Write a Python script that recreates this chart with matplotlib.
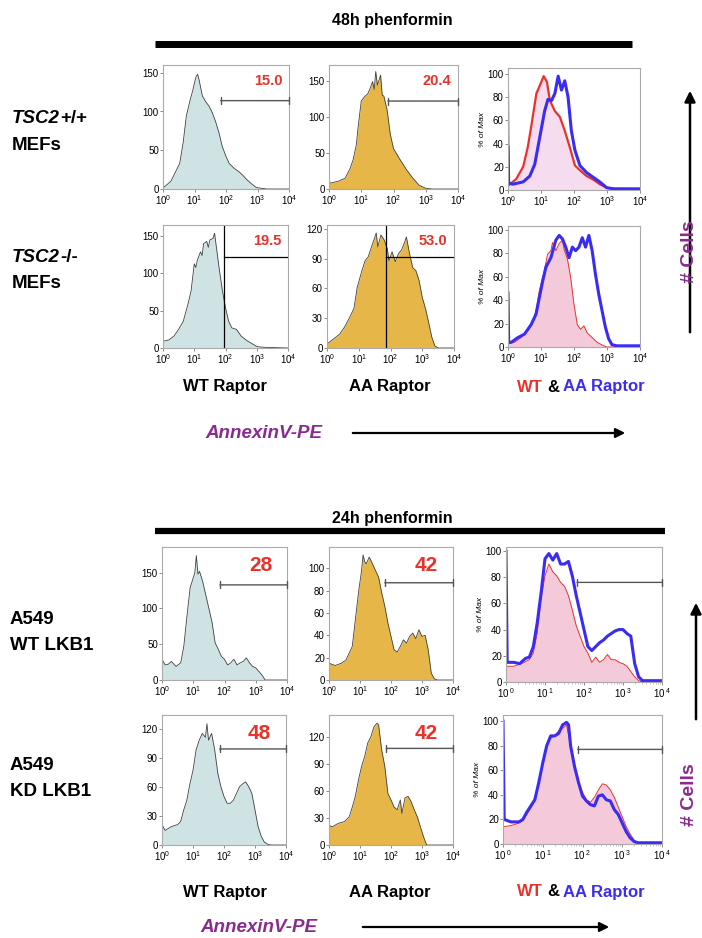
import matplotlib
matplotlib.use('Agg')
import matplotlib.pyplot as plt
import numpy as np

plt.rcParams['font.family'] = ['Liberation Sans', 'DejaVu Sans']
plt.rcParams['mathtext.fontset'] = 'custom'
plt.rcParams['mathtext.rm'] = 'Liberation Sans'
plt.rcParams['mathtext.it'] = 'Liberation Sans:italic'

W, H = 702, 938

# ---- data: x = log10(AnnexinV-PE), y = cell count / % of max ----
# 48h phenformin, TSC2+/+
t1_wt_x = [0, 0.02, 0.25, 0.53, 0.64, 0.74, 0.85, 0.95, 1.0, 1.05, 1.1, 1.15, 1.25, 1.35, 1.46, 1.57, 1.67, 1.78, 1.88, 2.0, 2.1, 2.25, 2.42, 2.55, 2.64, 2.8, 2.96, 3.1, 3.3, 4.0]
t1_wt_y = [45, 2, 10, 33, 60, 94, 113, 128, 137, 145, 148, 140, 120, 113, 107, 98, 87, 72, 55, 42, 33, 27, 22, 17, 13, 7, 2, 1, 0, 0]
t1_aa_x = [0, 0.02, 0.3, 0.5, 0.65, 0.75, 0.85, 0.9, 1.0, 1.1, 1.2, 1.28, 1.35, 1.4, 1.45, 1.5, 1.55, 1.6, 1.65, 1.7, 1.8, 1.9, 2.0, 2.2, 2.4, 2.6, 2.8, 3.0, 3.2, 4.0]
t1_aa_y = [55, 8, 11, 15, 28, 41, 62, 85, 122, 128, 132, 140, 149, 138, 163, 144, 151, 158, 130, 129, 110, 76, 56, 41, 27, 15, 5, 1, 0, 0]
t1_red_x = [0, 0.02, 0.25, 0.46, 0.6, 0.7, 0.86, 1.01, 1.08, 1.18, 1.27, 1.42, 1.57, 1.72, 1.87, 2.03, 2.18, 2.38, 2.58, 2.78, 2.99, 3.2, 4.0]
t1_red_y = [83, 4, 9.5, 20, 37, 54, 83, 93, 98, 93, 77, 68, 63, 51, 37, 21, 17, 12, 9, 5, 2, 1, 0.5]
t1_blue_x = [0, 0.02, 0.15, 0.46, 0.66, 0.81, 0.96, 1.11, 1.21, 1.32, 1.42, 1.52, 1.62, 1.72, 1.82, 1.92, 2.03, 2.18, 2.38, 2.58, 2.78, 2.99, 3.2, 4.0]
t1_blue_y = [37, 6, 5, 7, 12, 22, 45, 68, 78, 77, 83, 98, 86, 94, 80, 51, 34, 21, 15, 11, 7, 2, 1, 1]

# 48h phenformin, TSC2-/-
t2_wt_x = [0, 0.2, 0.35, 0.5, 0.65, 0.8, 0.9, 1.0, 1.05, 1.1, 1.2, 1.25, 1.3, 1.4, 1.45, 1.5, 1.6, 1.65, 1.7, 1.8, 1.9, 2.0, 2.1, 2.2, 2.35, 2.5, 2.65, 2.8, 3.0, 3.2, 4.0]
t2_wt_y = [9, 11, 16, 25, 36, 59, 77, 113, 108, 118, 129, 124, 140, 143, 135, 145, 147, 154, 138, 106, 77, 54, 36, 27, 25, 16, 11, 7, 2, 1, 0]
t2_aa_x = [0, 0.2, 0.4, 0.55, 0.7, 0.85, 0.95, 1.1, 1.2, 1.3, 1.4, 1.5, 1.55, 1.6, 1.7, 1.8, 1.9, 1.95, 2.05, 2.15, 2.25, 2.35, 2.45, 2.5, 2.6, 2.7, 2.8, 2.9, 3.0, 3.1, 3.2, 3.3, 3.4, 3.5, 4.0]
t2_aa_y = [4, 9, 14, 21, 30, 40, 61, 78, 88, 92, 102, 111, 116, 102, 114, 109, 100, 88, 97, 87, 95, 99, 107, 112, 95, 81, 78, 68, 51, 40, 26, 11, 2, 0, 0]
t2_red_x = [0, 0.02, 0.2, 0.4, 0.6, 0.75, 0.85, 0.95, 1.1, 1.2, 1.3, 1.35, 1.45, 1.55, 1.65, 1.7, 1.8, 1.9, 2.0, 2.1, 2.2, 2.3, 2.4, 2.55, 2.7, 2.9, 3.0, 4.0]
t2_red_y = [61, 3, 4, 8, 14, 21, 31, 48, 65, 79, 82, 89, 82, 88, 91, 83, 75, 59, 36, 19, 15, 18, 12, 8, 4, 1, 0, 0]
t2_blue_x = [0, 0.02, 0.1, 0.3, 0.5, 0.7, 0.85, 0.95, 1.05, 1.15, 1.3, 1.45, 1.55, 1.65, 1.75, 1.85, 1.95, 2.05, 2.15, 2.25, 2.35, 2.45, 2.55, 2.65, 2.75, 2.85, 2.95, 3.05, 3.15, 3.3, 4.0]
t2_blue_y = [46, 4, 4, 8, 11, 19, 28, 42, 56, 68, 76, 91, 95, 92, 85, 76, 85, 82, 85, 93, 85, 95, 82, 62, 45, 31, 17, 7, 2, 1, 1]

# 24h phenformin, A549 WT LKB1
b1_wt_x = [0, 0.1, 0.2, 0.3, 0.45, 0.6, 0.7, 0.8, 0.9, 1.0, 1.05, 1.1, 1.15, 1.2, 1.3, 1.4, 1.5, 1.6, 1.7, 1.8, 1.9, 2.0, 2.1, 2.2, 2.3, 2.4, 2.5, 2.6, 2.7, 2.8, 2.9, 3.0, 3.1, 3.2, 3.3, 4.0]
b1_wt_y = [29, 21, 22, 26, 19, 24, 48, 90, 129, 143, 150, 174, 148, 152, 138, 119, 100, 81, 52, 43, 33, 29, 21, 24, 29, 21, 24, 26, 31, 24, 19, 17, 12, 7, 0, 0]
b1_aa_x = [0, 0.2, 0.4, 0.55, 0.65, 0.75, 0.85, 0.95, 1.05, 1.1, 1.15, 1.2, 1.3, 1.4, 1.5, 1.6, 1.7, 1.8, 1.9, 2.0, 2.1, 2.2, 2.3, 2.4, 2.5, 2.6, 2.7, 2.8, 2.9, 3.0, 3.1, 3.2, 3.3, 3.4, 3.5, 4.0]
b1_aa_y = [15, 13, 15, 18, 24, 30, 54, 78, 98, 112, 106, 104, 110, 104, 98, 92, 78, 66, 51, 39, 27, 25, 30, 36, 33, 39, 42, 37, 45, 39, 40, 27, 6, 1, 0, 0]
b1_red_x = [0, 0.2, 0.4, 0.6, 0.7, 0.8, 0.9, 1.0, 1.1, 1.2, 1.3, 1.4, 1.5, 1.6, 1.7, 1.8, 1.9, 2.0, 2.1, 2.2, 2.3, 2.4, 2.5, 2.6, 2.7, 2.8, 2.9, 3.0, 3.1, 3.2, 3.3, 3.4, 3.5, 4.0]
b1_red_y = [12, 12, 14, 17, 22, 37, 63, 81, 90, 84, 81, 76, 73, 66, 55, 43, 35, 27, 22, 15, 19, 15, 17, 21, 17, 17, 15, 14, 12, 8, 4, 1, 0, 0]
b1_blue_x = [0, 0.03, 0.2, 0.35, 0.5, 0.6, 0.7, 0.8, 0.9, 1.0, 1.1, 1.2, 1.3, 1.4, 1.5, 1.6, 1.7, 1.8, 1.9, 2.0, 2.1, 2.2, 2.3, 2.4, 2.5, 2.6, 2.7, 2.8, 2.9, 3.0, 3.1, 3.2, 3.3, 3.4, 3.5, 4.0]
b1_blue_y = [100, 15, 15, 14, 18, 19, 27, 45, 68, 94, 98, 93, 98, 90, 90, 92, 81, 66, 53, 40, 27, 24, 27, 30, 32, 35, 37, 39, 40, 40, 37, 35, 14, 4, 1, 1]

# 24h phenformin, A549 KD LKB1
b2_wt_x = [0, 0.1, 0.3, 0.5, 0.6, 0.7, 0.8, 0.9, 1.0, 1.1, 1.2, 1.3, 1.4, 1.45, 1.5, 1.6, 1.7, 1.8, 1.9, 2.0, 2.1, 2.2, 2.3, 2.4, 2.5, 2.6, 2.7, 2.8, 2.9, 3.0, 3.1, 3.2, 3.3, 3.4, 3.5, 4.0]
b2_wt_y = [21, 15, 19, 21, 24, 36, 46, 63, 77, 98, 108, 115, 111, 125, 108, 115, 98, 74, 60, 50, 43, 43, 46, 53, 60, 63, 65, 60, 53, 36, 19, 9, 3, 1, 0, 0]
b2_aa_x = [0, 0.1, 0.3, 0.5, 0.65, 0.75, 0.85, 0.95, 1.05, 1.15, 1.25, 1.35, 1.45, 1.55, 1.6, 1.7, 1.8, 1.9, 2.0, 2.1, 2.2, 2.3, 2.35, 2.45, 2.55, 2.65, 2.75, 2.85, 2.95, 3.05, 3.15, 4.0]
b2_aa_y = [22, 20, 24, 26, 31, 42, 54, 72, 87, 98, 113, 120, 131, 135, 133, 105, 87, 57, 50, 42, 39, 50, 35, 52, 54, 48, 39, 31, 20, 9, 0, 0]
b2_red_x = [0, 0.2, 0.4, 0.5, 0.6, 0.7, 0.8, 0.9, 1.0, 1.1, 1.2, 1.3, 1.4, 1.5, 1.6, 1.7, 1.8, 1.9, 2.0, 2.1, 2.2, 2.3, 2.4, 2.5, 2.6, 2.7, 2.8, 2.9, 3.0, 3.1, 3.2, 3.3, 3.4, 3.5, 4.0]
b2_red_y = [14, 15, 17, 19, 24, 29, 35, 50, 64, 80, 86, 88, 92, 94, 97, 80, 63, 50, 42, 36, 34, 38, 44, 49, 48, 44, 38, 30, 22, 14, 8, 3, 1, 0, 0]
b2_blue_x = [0, 0.03, 0.2, 0.4, 0.5, 0.6, 0.7, 0.8, 0.9, 1.0, 1.1, 1.2, 1.3, 1.4, 1.5, 1.6, 1.65, 1.7, 1.8, 1.9, 2.0, 2.1, 2.2, 2.3, 2.4, 2.5, 2.6, 2.7, 2.8, 2.9, 3.0, 3.1, 3.2, 3.3, 3.4, 4.0]
b2_blue_y = [100, 20, 18, 18, 20, 26, 31, 36, 50, 66, 80, 88, 88, 90, 97, 99, 97, 80, 63, 50, 39, 35, 32, 31, 39, 40, 36, 35, 28, 24, 17, 10, 5, 2, 1, 1]

# gates: (log10 start, height) and percentages
gate_start = [1.83, 1.83, 1.94, 1.87, 1.86, 1.8, 1.82, 1.86, 1.85, 1.88]
gate_level = [114, 122, 122, 92, 133, 87, 76, 99, 107, 77]
gate_pct = ['15.0', '20.4', '19.5', '53.0', '28', '42', '', '48', '42', '']

row_names = [('TSC2', '+/+', 'MEFs'), ('TSC2', '-/-', 'MEFs'), ('', 'A549', 'WT LKB1'), ('', 'A549', 'KD LKB1')]
col_names = ['WT Raptor', 'AA Raptor']

# ---- layout helpers ----
fig = plt.figure(figsize=(W / 100, H / 100), dpi=100)
ov = fig.add_axes([0, 0, 1, 1])
ov.set_xlim(0, W)
ov.set_ylim(H, 0)
ov.axis('off')
ov.patch.set_alpha(0)

def box(l, t, r, b):
    return [l / W, 1 - b / H, (r - l) / W, (b - t) / H]

BLUEFILL = '#cfe3e5'
GOLD = '#e6b649'
PINK = '#f4cadb'
PINK_LIGHT = '#f6dcef'
RED = '#e8322b'
BLUE = '#3a2cf2'
PURPLE = '#8a2a90'

def style(ax, ymax, yticks, spaced=False, pctmax=False):
    ax.set_xscale('log')
    ax.set_xlim(1, 1e4)
    ax.set_ylim(0, ymax)
    ax.set_yticks(yticks)
    ax.set_xticks([1, 10, 100, 1000, 10000])
    if spaced:
        ax.set_xticklabels([r'$10^{\ %d}$' % i for i in range(5)])
    else:
        ax.set_xticklabels([r'$10^{%d}$' % i for i in range(5)])
    ax.tick_params(labelsize=7, length=2, width=0.6, pad=1, color='#777777')
    ax.tick_params(which='minor', length=1.2, width=0.4, color='#999999')
    for s in ax.spines.values():
        s.set_color('#aaaaaa')
        s.set_linewidth(0.8)
    if pctmax:
        ax.set_ylabel('% of Max', fontsize=6, style='italic', labelpad=1)

def single(ax, lx, y, color):
    x = 10 ** np.array(lx)
    ax.fill_between(x, 0, y, color=color, lw=0)
    ax.plot(x, y, color='#404040', lw=0.6)

def overlay(ax, rx, ry, bx, by, fill, red_lw):
    x = 10 ** np.array(rx)
    ax.fill_between(x, 0, ry, color=fill, lw=0)
    ax.plot(x, ry, color=RED, lw=red_lw)
    ax.plot(10 ** np.array(bx), by, color=BLUE, lw=2.2)

def gate(ax, start, level, quad=False):
    if quad:
        ax.axvline(10 ** start, color='black', lw=0.9)
        ax.plot([10 ** start, 1e4], [level, level], color='black', lw=0.9)
    else:
        ax.annotate('', xy=(1e4 * 0.99, level), xytext=(10 ** start, level),
                    arrowprops=dict(arrowstyle='|-|', color='#555555', lw=1.0, mutation_scale=2.5,
                                    shrinkA=0, shrinkB=0))

def pct(ax, s, size, x=0.95, y=0.87):
    ax.text(x, y, s, transform=ax.transAxes, ha='right', va='center',
            color=RED, fontsize=size, fontweight='bold')

# ---- 48h, TSC2+/+ ----
a = fig.add_axes(box(163, 65, 289, 189))
single(a, t1_wt_x, t1_wt_y, BLUEFILL)
style(a, 160, [0, 50, 100, 150])
gate(a, gate_start[0], gate_level[0])
pct(a, gate_pct[0], 10.5)

a = fig.add_axes(box(329, 65, 458, 189))
single(a, t1_aa_x, t1_aa_y, GOLD)
style(a, 172, [0, 50, 100, 150])
gate(a, gate_start[1], gate_level[1])
pct(a, gate_pct[1], 10.5)

a = fig.add_axes(box(508, 68, 640, 190))
overlay(a, t1_red_x, t1_red_y, t1_blue_x, t1_blue_y, PINK_LIGHT, 1.6)
style(a, 105, [0, 20, 40, 60, 80, 100], pctmax=True)

# ---- 48h, TSC2-/- ----
a = fig.add_axes(box(163, 225, 288, 348))
single(a, t2_wt_x, t2_wt_y, BLUEFILL)
style(a, 165, [0, 50, 100, 150])
gate(a, gate_start[2], gate_level[2], quad=True)
pct(a, gate_pct[2], 10.5)

a = fig.add_axes(box(327, 225, 454, 348))
single(a, t2_aa_x, t2_aa_y, GOLD)
style(a, 124, [0, 30, 60, 90, 120])
gate(a, gate_start[3], gate_level[3], quad=True)
pct(a, gate_pct[3], 10.5)

a = fig.add_axes(box(508, 226, 640, 347))
overlay(a, t2_red_x, t2_red_y, t2_blue_x, t2_blue_y, PINK, 0.7)
style(a, 103, [0, 20, 40, 60, 80, 100], pctmax=True)

# ---- 24h, A549 WT LKB1 ----
a = fig.add_axes(box(162, 547, 287, 680))
single(a, b1_wt_x, b1_wt_y, BLUEFILL)
style(a, 186, [0, 50, 100, 150])
gate(a, gate_start[4], gate_level[4])
pct(a, gate_pct[4], 15, x=0.88, y=0.86)

a = fig.add_axes(box(329, 547, 453, 680))
single(a, b1_aa_x, b1_aa_y, GOLD)
style(a, 119, [0, 20, 40, 60, 80, 100])
gate(a, gate_start[5], gate_level[5])
pct(a, gate_pct[5], 15, x=0.88, y=0.86)

a = fig.add_axes(box(506, 547, 662, 682))
overlay(a, b1_red_x, b1_red_y, b1_blue_x, b1_blue_y, PINK, 0.7)
style(a, 103, [0, 20, 40, 60, 80, 100], spaced=True, pctmax=True)
gate(a, gate_start[6], gate_level[6])

# ---- 24h, A549 KD LKB1 ----
a = fig.add_axes(box(162, 715, 286, 845))
single(a, b2_wt_x, b2_wt_y, BLUEFILL)
style(a, 134, [0, 30, 60, 90, 120])
gate(a, gate_start[7], gate_level[7])
pct(a, gate_pct[7], 15, x=0.88, y=0.86)

a = fig.add_axes(box(329, 715, 453, 845))
single(a, b2_aa_x, b2_aa_y, GOLD)
style(a, 144, [0, 30, 60, 90, 120])
gate(a, gate_start[8], gate_level[8])
pct(a, gate_pct[8], 15, x=0.88, y=0.86)

a = fig.add_axes(box(503, 715, 662, 844))
overlay(a, b2_red_x, b2_red_y, b2_blue_x, b2_blue_y, PINK, 0.7)
style(a, 105, [0, 20, 40, 60, 80, 100], spaced=True, pctmax=True)
gate(a, gate_start[9], gate_level[9])

# ---- annotations (pixel coordinates) ----
ov.text(392, 20, '48h phenformin', ha='center', va='center', fontsize=11.5, fontweight='bold')
ov.plot([155, 632], [44, 44], color='black', lw=5, solid_capstyle='butt')
ov.text(392, 519, '24h phenformin', ha='center', va='center', fontsize=11.5, fontweight='bold')
ov.plot([155, 665], [531, 531], color='black', lw=4.5, solid_capstyle='butt')

fig.canvas.draw()
rend = fig.canvas.get_renderer()

def right_edge(t):
    bb = t.get_window_extent(rend)
    return ov.transData.inverted().transform((bb.x1, bb.y0))[0]

row_y = [(118, 145), (257, 283), (620, 646), (765, 791)]
for (it, rest, second), (y1, y2) in zip(row_names, row_y):
    if it:
        t = ov.text(12, y1 + 5, it, ha='left', va='baseline', fontsize=13.5, fontweight='bold', style='italic')
        ov.text(right_edge(t) + 0.5, y1 + 5, rest, ha='left', va='baseline', fontsize=13.5, fontweight='bold')
        ov.text(12, y2, second, ha='left', va='center', fontsize=13.5, fontweight='bold')
    else:
        ov.text(10, y1, rest, ha='left', va='center', fontsize=13.5, fontweight='bold')
        ov.text(10, y2, second, ha='left', va='center', fontsize=13.5, fontweight='bold')

for yy in [387, 892]:
    ov.text(225, yy, col_names[0], ha='center', va='center', fontsize=12, fontweight='bold')
    ov.text(390, yy, col_names[1], ha='center', va='center', fontsize=12, fontweight='bold')
    t = ov.text(517, yy + 4.5, 'WT', ha='left', va='baseline', fontsize=12, fontweight='bold', color=RED)
    t2 = ov.text(right_edge(t) + 4, yy + 4.5, '&', ha='left', va='baseline', fontsize=12,
                 fontweight='bold', color='black')
    ov.text(right_edge(t2) + 4, yy + 4.5, 'AA Raptor', ha='left', va='baseline', fontsize=12,
            fontweight='bold', color=BLUE)

for yy, x0, x1, x2 in [(433, 205, 350, 628), (927, 200, 360, 612)]:
    ov.text(x0, yy, 'AnnexinV-PE', ha='left', va='center', fontsize=13.5, fontweight='bold',
            style='italic', color=PURPLE)
    ov.annotate('', xy=(x2, yy), xytext=(x1, yy),
                arrowprops=dict(arrowstyle='-|>', color='black', lw=1.6, mutation_scale=14))

ov.annotate('', xy=(690, 88), xytext=(690, 335),
            arrowprops=dict(arrowstyle='-|>', color='black', lw=1.8, mutation_scale=16))
ov.text(690, 252, '# Cells', rotation=90, ha='center', va='center', fontsize=14,
        fontweight='bold', color=PURPLE)
ov.annotate('', xy=(696, 600), xytext=(696, 722),
            arrowprops=dict(arrowstyle='-|>', color='black', lw=1.8, mutation_scale=16))
ov.text(690, 795, '# Cells', rotation=90, ha='center', va='center', fontsize=14,
        fontweight='bold', color=PURPLE)

fig.savefig('out.png', dpi=100)
